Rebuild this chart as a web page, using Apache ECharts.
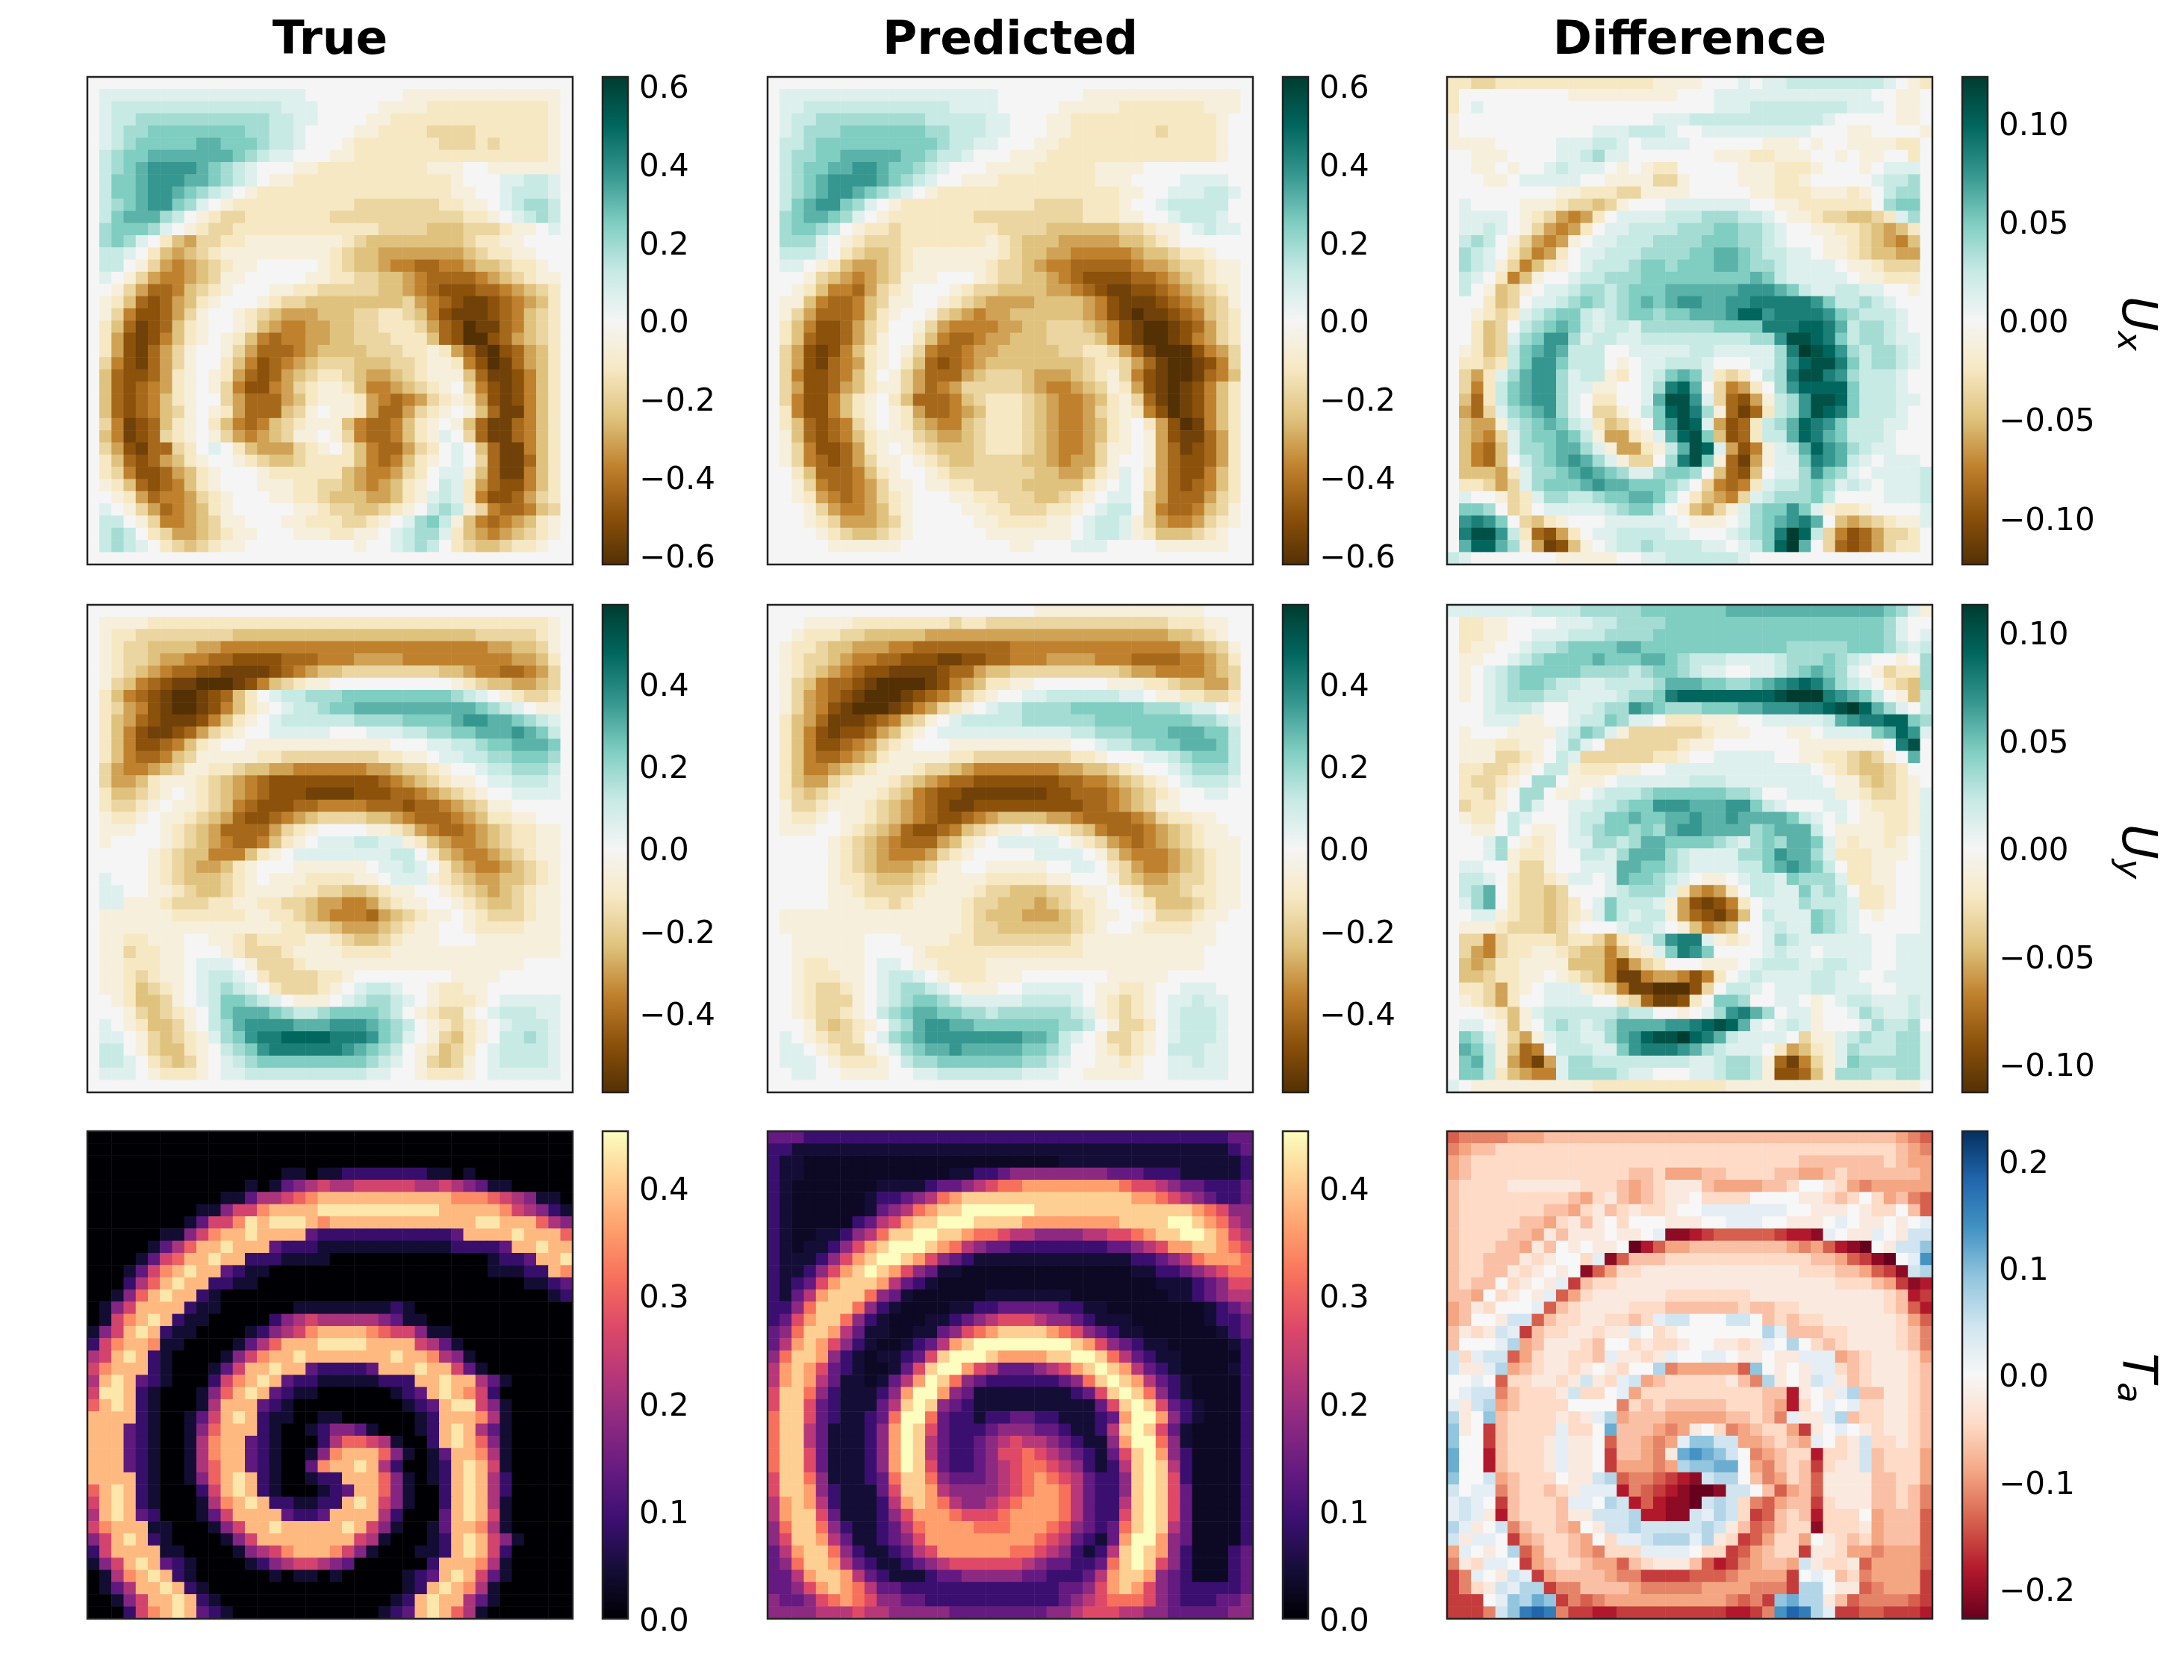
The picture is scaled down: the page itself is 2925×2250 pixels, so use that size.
<!DOCTYPE html>
<html>
<head>
<meta charset="utf-8">
<title>True / Predicted / Difference</title>
<script src="https://cdn.jsdelivr.net/npm/echarts@6/dist/echarts.min.js"></script>
<style>
  html, body { margin: 0; padding: 0; background: #fff; }
  #chart { width: 2925px; height: 2250px; }
</style>
</head>
<body>
<div id="chart"></div>
<script>
// cell values are read off the picture, one letter per cell, in tenths of the panel's vmax:
// a..j = -0.1..-1, A..J = +0.1..+1, . = 0
const uxTrue = [
".......... .......... .......... ..........",
".AAAAAAAAA AAAAAAAA.. ......aaaa aaaaaaaaa.",
".ABBBBBBBB BBBBBBAAA. ....aaaabb bbbbbbbba.",
".ABBCCCCCC CCCCCBBAA. ...aabbbbb bbbbbbbba.",
".ABCCDDDDD DDDCCBBA.. ..aabbbbcc ccbbbbbba.",
".ABCDDDDDE EDDDCBBA.. .abbbbbbbc ccbcbbbba.",
".BCDDEEEEE EEDCBAA... aabbbbbbbb bbbbbbbba.",
".BCDEFFFFE DCBA...aab bbbbbbbbaa a..aaaaaa.",
".BDDEFFFEE DCBA.aabbb bbbbbbbbbb a...AABBA.",
".BDDEFFEDC BA.abbbbbb bbbbbbbbbb aa..ABBBA.",
".BCDEFFDCA .abbbbbbbb bbcccccccb baa.ABCCB.",
".BDEEECB.a bccbbbbbbb cccccccccc cbba.ABCB.",
".CDDDCA.ab ccbbbbbbbb bbbbccccdd dcccbaa.A.",
".CDCA.bdec cbbaaaaaaa abcddddddd dcbbaa....",
".BBA.bdedc baaaaaaaaa bcddeeeeee edcbbaa...",
".BB.acefed cbaa.....a bcddeffggf feddcbba..",
".A.aceffed caa.....aa bbccddefgg ggfedcbaa.",
"..aceggfdc ba...aabbc ccccddefgh hhggfedcb.",
".abdghgedb a...abccdd ddddddcefg hiihgfedb.",
".acfhhgeca ..abcdeeed ddccbbcdfh iiihgfdcb.",
".bdgihgdba ..abdeffee ddccbbbceg hjiigfdcb.",
".behihfdba .abdfgffee ddcccbbbdg hjjhgedcb.",
".behigeca. .acegggfed dddcccbbab egijhgedb.",
".cfhigeca. .bdfhgfedc ccdddccbaa bfhjigedb.",
".dghhgeba. abeghgedcb bcdeedcbaa adgiihfdb.",
".dghgfeba. acfhhfecba abdffedcba .cfhihfdb.",
".dghgfdba. .cegggedba aabefgfecb abehihfdb.",
".dghgfdca. abegggdca. aabeggecba .adgiifdb.",
".cfihgdba. bdfgfdcbaa adfggfdba. adgiigfdb.",
".dfihgcba. acefedcaa. acfggfdbaA .cgiigfdb.",
".cehiggcb. A.bdeeecba .bdfggecb. A.dgiifdb.",
".bdghgedba ..abcddcbb bbdfgfdba. A.cgiigdb.",
".bcfhhgedb a...abbbbb bdeffecb.A Aadgiifdb.",
".abdghgfdb a...aaabbc cdefedba.B Abeghhfdb.",
"..abegffec ba...aabbc dddeedbaAB Abfhhgecb.",
".A.acegfed ba.....aab ccddcba.BC Bacfggfdc.",
".BB.acffed caa...aabb bccba.ACDB adfgfedba.",
".BCB.bceed cbaa...aaa bbaa.ABCCA bdefedcba.",
".BCBA.bcdc baa....... ..a..ABCB. bcddcbba..",
".......... .......... .......... .........."
];
const uxPred = [
".......... .......... .......... ..........",
".AAAAAAAAA AAAAAAAAA. ......aaaa aaaaaaaaa.",
".AABBBBBBB BBBBBAAAA. ....aaaaab bbbbbbaaa.",
".ABBCCCCCC CCCBBBBBAA ...aabbbbb bbbbbbba..",
".ABCCCDDDD DDDCCBBBAA ...aabbbbb bbcbbbba..",
".BBCDDDDDD DDDDCBBAA. ..aabbbbbb bbbbbbba..",
".BCCDDEEEE EDDCBBA... aaabbbbbbb bbbbbbba..",
".BCDDEEFFE DDCBA...aa aabbbbbaaa a.........",
".BCDEFFFFE DCBA..aaab bbbbbbbaaa ....AAAA..",
".BCDEFFEDC BA.abbbbbb bbbbbbbbba a..AAABBA.",
".BDEFFDCA. abbbbbbbbb bbccccbbba ..ABBBBB..",
".CDEEDCA.a bbbbbbbccc ccccccbbba a..ABBBA..",
".CDDCB.abb cbbbbbbbbc cccddddddc cbaa.ABAA.",
".CCCA.abcc cbbbbbbbab cdddeeeeed dcba......",
".BBBA.bcdd cbaaaaaaab cddeefffff eddcbba...",
".AA.abdeed cbaaaaaabc cdeffggggg feedccbaa.",
"...acdefed caaa...abc cddefghhhh ggfedcbaa.",
"..abdffgec ba...abccd dddeefghii hhgfedcba.",
".aadfggfdc aa..abcdee eeddddefhi iihgfedca.",
".acegggfdb a..acdefee ddddddefhi jiihgfdcb.",
".bdfhhgecb ..aceffffe eddcccdefh ijjihgecb.",
".bdghhgeca ..bdfggfee dddccccdfh ijjihfecb.",
".cehihfdba .acfggfeed ddddccbbce gijjjhfec.",
".cehigfeba .bdghgfedd ddddddcbbc egijjihfc.",
".cfhhgfdb. acegggedcc cdeeedcbac fhijjigfd.",
".cehhgedba acegfecccc cdeffedcab ehijihfdb.",
".cfhhfdba. bdgggfdcbb bcdeffedba cgijihfdb.",
".bfhhfdba. abeggfedbb bcdeffecba bfhjihfdb.",
".bdghgfca. abdeffdcbb bcdeffedba .behjifdb.",
".adghgfdba aacdeedcbb bcdeffedba .aehiigeb.",
".acfhhgeba .abcdddcbb bcdeffecaa .aegihgeb.",
".acfghgeca a.abcddccc cddefeeca. .aeghhgeb.",
"..bdgggfdb a..abccccc ccddeedbaA .beghhfdb.",
"..acfggfec aa.aabbccc cdddddba.A .beghgfdb.",
"..abefgfec ba...aabbc ccddcba.AA .cegggecb.",
"...aceffed ba....aabb cccbba.ABB .cfggfdca.",
"...abceeed ca.....aab bbbaa.ABBA aceffecba.",
"....abcddc ba......aa aaaaa.ABBA abdddcba..",
".....aaaaa a......... aa...AAA.. ..aaaaaa..",
".......... .......... .......... .........."
];
const uxDiff = [
"bbccbbbbbb bbbbbbbaaa a...A.AABB BBBBBBA.ab",
"b......... aaaaaaaaa. ..AAAAAAAA AAAAA..aa.",
"b.A....... .......... ..AAABBBBB BBBAAA.aa.",
"a......... .......AAA BBBBBBBBBB BA.....aa.",
"a......... ..AAABBBA. .AAAAAAAAA ...aa....a",
"aaaa.....A AABBA.AAAA ......aaa. a..aaaabb.",
"..aaa....A ABCAA..... ..aaabbaaa ..a.aa..b.",
"..aa.a..AB AAA.a.abb. ....aaabbb a...a.AAA.",
"...aa.AAAA A..aaaacca ....aaabba .....ABBC.",
".........a abbbccaaaa .....aabbb aaaba.BCC.",
".A....aaab ccdca...AA AAAAA..aab bbbbb.CDD.",
".AAAA.abce feb.AAAABB BCCCBBA.aa bccddcbAC.",
".AABA.acef eb.AABBBBC CCDDCCBA.. aabbcdedb.",
".BCB.acefe a.AABBBCCC CDDDCCBA.. .aabcdefd.",
".CBA.bdfeb .AABBBCCCC DDEEDCBBAA .aabcddee.",
".CBAacfdba .ABBBCDDCD DDEEDCCBAA AA.aabccc.",
".BA.bfda.. ABBCCCDDDD DDDDDEDBAA AAA.aabbb.",
".B.adca.AA BCCBCDDDEE EEEEFFFEDB AABBAA..a.",
"...bdc.AAB CDCBCDEDEF FEEFFGGGGG FDBBCBA...",
"..abcbABCD DBABCDDCDD EEEFHHFGGG GFDCBBBA..",
"..bdc.BCDE DBABBACCCC CCDDDDGGGH HGEBCCBA..",
"..bdcACDFF CABBAABBBB BBBBBCCFII HGDBCCBAA.",
".abdcBDEFE BBB..AAAAA BBAAAAACGJ IHFCBCCBA.",
".bbcbBDFFD BBB.a.AABB BA...AACFH IIGDBCCBA.",
".cebACEFFC ABBab.ABDE DAbcb.BCGI IGFCBBBA..",
".cfbBDEFFC AAaa..ACGH E.cfeb.CFH HHHDBBBA..",
".dgbBDEFFC A.bb..AEII FAcgheaBCF IIHDBBBAA.",
".egcACDEFC A.cca.BDHI GCagigbBCF IHGDBBBA..",
".deeaBCDED BAbdca.DFI HAehgbBCEH GFDBBBAA..",
".defcACDDE DBaeebaAEH IDdhgbBBEH GEDBBBA...",
".dfgdACCDE ECAaeebaBE IHAehfaABE HFECBAA...",
".dfgd.BCDE FECAacc.CG IDagieaAAD GFEBA.AAA.",
".dddebACCD EFEDCAACDD C.dghd.AAC FDCA.AAAAB",
".bbcecACDD DEFEEDDDCB .cfgfbABBC DCABA.AAAB",
".A..acbACC BBCDDEEDB. bdefcABCCC DB....AAAB",
".DDC.cb.AA AAABCDDB.a decaACDDFD Aabba....A",
".FGFD.cdba ...AAAAAA. aaa.ACDEFG E.dedcbaaA",
".GIIFBbghe b.AABBBBAA ...ABCDGJH Bcfhgeccb.",
".EHHECaeih da.ABBCBBB BAA.ABDHJE .cghgecbb.",
"BA.......a aaaa..AABB BBBBA..... .........."
];
const uyTrue = [
".......... .......... .......... ..........",
".aaaabbbbb bbbbbbbbbb bbbbbbbbbb bbbbbbbba.",
".abbcccccc ccdddddddd dddddddddd ddcccccba.",
".abccdddde efffffffff ffffffffff fffeeddca.",
".abccdeeff gghhhhgggf ffeeeeffff fffffeedb.",
".abcdefggh hiiiihgfed dccccccccd deffggfec.",
".acdfghiij jjihfdcbaa .......... abcddeedc.",
".bdfghijji hgdb.ABBCC CDDDDDDDDD CBA.abccb.",
".bcefhijji hfdba.ABBC DDEEEEEEEE EEDCBA.aa.",
".bdeghiiih fdba.ABBBB BBCCCCDDDD EFFEEDCBA.",
".bdfhiihge cba..AAAAA ...AAABBCC DDEEEFEDB.",
".bdfhhgfdb a..aaaaaaa aaaaa...AA BBCDDEEED.",
".bdfggfdca aaaabbcccc ccccbbaa.A ABBCCDDDC.",
".ceffedcaa bbcddeefff fffeedccba ..ABBCCCB.",
".ceedbaaab cdefghhhhh hhhhgfedcb aa.AABBBA.",
".bddcba.ab cdefghhhii iihhhggfed cba..AAAA.",
".bccba.aab cdfghhhggf fffggghggf edcaa.....",
".abba.aabc deghhgfedc cccddefggg fedbbaa...",
".aaa..abcd eggggecba. ...aabcefg gfedcbbaa.",
".a....abcd efggfdba.A AABBAAabde ffedcbbaa.",
".....abcdd fffdba.AAA AAAAABB.bd effedcbaa.",
".....abcde edba...aaa aaa.AABA.b deffedcba.",
".A...abcdd dcba.aaabb bbaa.AAAab cdeeddcba.",
".AA..aabcd dcbaaaabbc cddcbaa..a bcdedcbaa.",
".AAaaabccc bbaabbccde effecbaa.. abcddcbaa.",
".aaaaaabbb bbbaabbcde fffgedcbaa .abcccbaa.",
".aaaaaaaaa aaaaaabbcc deeedcbaa. .abbbbaaa.",
".aabbaaa.. aabcbbbbaa bcddcbaaa. ..aaaaaaa.",
".aacbbaa.. .abcccbaaa abbbbaaaaa aaaaaaaaa.",
".aabbbaa.A AA.acccbaa aaaaaaaaaa aaaaaa....",
".aabcbaa.A BBA.bccccb ba........ aaaa......",
".aabdcba.A BCBA.bcccb a.ABBA..ab baa.......",
"..abddca.A BDDCBA.aaa .ABCCBA.ab bba.AAAAA.",
"...acdcba. BDEEEDCBBC DDDDCB.abc ca.ABBBAA.",
".A.abddca. BCEFFFFEEE FFFEDCB.ab cba.ABBBA.",
".AA.acdcba ACDFGGHHHH GGGFDCA.ac dba.BBCBA.",
".BB.acddba .BCDFGGGGG GFEDCB.abd cb.ABBBBA.",
".BBA.bcdca .ABCDDDDDD DDDCBA.acd ca.ABBBBA.",
".AAA.abbba .AABBBBBBB BBBAA..abb ba.AAAAAA.",
".......... .......... .......... .........."
];
const uyPred = [
".......... .......... ..aaaaaaaa aaaaaa....",
"...aaaabbb bbbbbcbbcc cccccccccc cccbbbaa..",
"..abbbccdd dddeeeeeee eeeeeeeeee eeeddcba..",
".abbcddeee ffgggggggg ffffffffff ffffeedca.",
".abccdeffg ghhhiihhgg fffeeeefff ggggffedb.",
".abcdefghh iiiihggedd cccccccccd eeffffedc.",
".acdfgghij jjjihfedbb aa......aa abbcddeec.",
".acefghijj jihgfecba. .AABBBBBBA A.aabbccb.",
".acefhijjj ihfecba.AB BCCCCDDDDD DCCCBAA.a.",
".bdegiiihg fdca.ABBBB BCCCCCCDDD DDDDDCCBA.",
".bdfhihhge dba.AAAAAA AAAAABBCCC DDDEEEDDB.",
".bdfhhgfec ba...aaaaa aaaaa..ABB CCDDEEEDB.",
".bdfggfedb aaaaabbccc cccccbba.. .AABCDDDB.",
".bdffedcba aabccdefff ffffeeddcb a..ABCCCB.",
".bdeecbaaa bcdefgghhh hhhhggffed cba.ABBBA.",
".bcdcbaaab cdfghhiiii iiihhgggfe dcba..AA..",
".accbaaabc defghiihhh hhhhhhggfe dcaa......",
".abba.aabc defghhgfed dddeefgggg fecbbaa...",
".aaa..abcd eghhgfdcba a.aabcdfgg gfedcbaa..",
".....abcde fgggedba.A AAAA.abcef gfedcbaaa.",
".....abcde fffecba... ..AAAA.ace fffedcbaa.",
".....abcde eedcaa..aa aaa..AA.bc effedcbaa.",
".....abbcd ddcbaaaabb bbbaa...ac deedccbaa.",
".....aabcc ccbaaaabcc dddccbaa.a bdddcbbaa.",
".....aaabb cbaaaabccd ddedcbba.. abdddcbaa.",
".aaaaaaaaa aaaaaabcdd deeedcbaa. .acccbaa..",
".aaaaaaaaa aaaaaabccd dddddcba.. abbbbaa...",
"..aaaaaa.. .aaaabbccc cccccbaaaa aaaaaaa...",
"..aaaaaa.. ..abbbbbbb bbbbbbaaaa aaaaaa....",
"..abbaaa.A A.aabbbbaa aaaaaaaaaa aaaaaa....",
"..abbbaa.A BBA.abbbaa a.......aa aaa.......",
"..abccba.A BCCBA.aaa. .AAAAA.aab ba..AAA...",
"..abccca.A BCDDCBAAAA ABBBBA.abc ba.AABAA..",
"..abccba.B CDEEDDCCBC CCCCCBAabc ba.ABBBA..",
"...acdcba. BCEFFEEDDD DDDDCCB.ac cb.ABBBA..",
".A.abccb.A CDEFFFFFFF FEEDBA.acc ba.ABBBA..",
".AA.abcca. ACDEEFEEEE EDDCB..abc ba.BBBAA..",
".AAA.abbba .BCCDDDDDD DCCBA..aab a..AABAA..",
"..AA..aaaa ..AABBBBBB BAAA..aaaa a..AAAAA..",
".......... .......... .......... .........."
];
const uyDiff = [
"AAAAAAABBB BCCCCCDDDD DDDEEEEEEE EEEEEEDCAa",
".bbaa....A AABBCCCCDD DDDDDDDDDD DDDDDDCA..",
".bbaa..AAA BBBCCCCDDD DDDDDDDDDD DDDDDDCA.A",
".baa..ABBC DDDDEEDDDD DDDDDDDDCC CCCDDDCBAB",
".aa..ABCDD DDEDDDEEDC BBBAAAABCC CDCBA..a.C",
".a.ABCDDDD DCCCCBCDDC BAA..AABCD EDCA.acbbC",
".a.ABCDDCB BAABBBBCEE EDDCCDEFGH GECBA.bcdC",
".a.ABCCCBB AAAABCCDGH HHHHHHHIJJ JGFEDB.adB",
"...ABBBA.. AABCCFEDCC CDDDEEFFFG GHIJHECA.B",
"...AAAaa.. ABBDCAA.bb baaa..AAAA ABEFGGHHDC",
".a...aaaaA BDCAaccccc cbaaa...aa .AAAADEHFA",
".aaabbaa.A CA.ccccccb aa.......a aaaaaa.GI.",
".aaaccba.B Accccccbba ..AAAAA..a abbcdca.E.",
".bbccba.BB abbbaa..AA AAAAAAAAAA .abcddcb..",
".bccba.CC. aaa.AAAAAA BBBAAAAAAA A.aacdcba.",
".bbca.CC.a a.ABBBCDDD DDDCCB..AA AAaabccbaA",
".cbba.CA.. AABBCDDFFF EEEFFDBA.. .AA.abbbaA",
".abb.BA... ABBDDEDDEE FEEFEEEEDB A.A.aabbaA",
"..aa.B.aa. ABCDDCDCEF FEEEECDEEE B.aaaabbaA",
"...AC.aba. AACCBCEEDD DDCBACDCEE DAabaaba.A",
"...ACabba. .BBACEEECB AAAACCDFEE CAbbbaaa.A",
".AA..acca. .AAAEEDDCB AAAABBDEFE DB.bbaa..A",
".BBA.bccba AA.AEDDCBA .aa.ABBADC CCAbbaa..A",
".BCE.bccdc ...ABCCCAb efeb.BBAAD BCB.bba..A",
".ACE.bccdc b.ADBBBAae hihfb.AAAC BBBAbba..A",
"..AAabccdc baADBABBae ghigd.BAAA DCBA.a...A",
".aaabcccdc a...ABBA.a dfed..ABAA DCBA.....A",
".ccfcbbbbc bbcebaACFG GAaba.ACBA AAAAA..AAA",
".cefcbbaab cddfdbaADG FD....ABAA .AAAA..AAA",
".dedbbaaaa dddfhecb.. .aaa.ABBBA ABBAA..AAA",
".ddcbbaa.a bcdfiifeef hfb.ABAAAA BBAA..AAAA",
".bbceba.AA Aabcfiijjj hc.BBA.AAA BBAAA..AAA",
".abceb..AA AA..bcgiih b.DDC..AA. a.ABBAAABA",
"...abdaABB BBBBCBB..a .ACFGEC.AA a..ACBAABA",
".AA.ada.BC BABCEEEEFF GHIHEA.ABA a...ACBBC.",
".DCAaceaAB BAACEFHIIJ HGEBAAAA.c aaABCBBCCA",
".EDBadgf.B BBAADFGGGF ECBAAA.bed baACBBBCCA",
".DEBaegieA CCBBBBBBBB AABCCBagif caADCCCCCA",
".DDBbdeffA CCCCBAA... AABCCBahhg daCCCBBCCA",
"A.aaaaaaaa aabbbbbbbb bbbaaaaaaa aaaaaaaaa."
];
const taTrue = [
".......... .......... .......... ..........",
".......... .......... .......... ..........",
".......... .......... .......... ..........",
".......... ......AA.A ABBBBBBBAA .A........",
".......... ...A.ACDEF EEFFFFFEEF EDCAA.....",
".......... .AACEEFGHI IIIIIIIIII HHHGFEDAA.",
".........A ADFFHIIIIJ JJJJJJJJJI IIIIHFEDBA",
"........AC FFHJIJJJIH IIIIIIIIII IIJJIIIGED",
"......AADF HIIJIIIICB BBBBBBBBBB CIIIIJIIIG",
".....ACEGI IJIIICBBBA AAAAAAAAAA BBBBCIIJII",
"....ACFGII JIIBBBAAAA .......... ...ABBCIIJ",
"...ACFHIJI ICBAA..... .......... ...AAABBIH",
"...BEGIJII BBAA...... .......... ......AABC",
"..ADGIJIIB A......... .......... ........AB",
".ADFIIIIBA A......AAA AAAAABA... ..........",
".AFHIJIBAA .....BDEFE EEEEDCAA.. ..........",
"ADFIJIBAA. ...ABDEFHI IIIHGFFDAA ..........",
"BFHIIHAA.. ..ACEGIIIJ JJJIIIIFEC A.........",
"EFIJIBA... .ADFHIIJII IIIIIJIIHE DA........",
"FHIIIBA... ACFIIJIICB BBBCIIIJII FCA.......",
"EIJICBA... BFHIJICBBA AAAABBBIIJ IIECA.....",
"FJJIBA...A DGIJICBAA. .....ABCIJ IHFB......",
"GIJIBA...A EIIICBA... ......ABCI JJFDA.....",
"IIIIBA..AC FIJIBAA..A A......ABI IIHEA.....",
"IIICBA..AD GIIIBA..AB DDCA...ABI JIECA.....",
"IIICBA..AE HIICBA...B EGGFEA..BI JIGDA.....",
"IIICBA..AE HIICBA..AD HIIIGDA.AC IIHEA.....",
"IIICBA..AE GIICBA..CH IIJIEB..AB IJIFA.....",
"IIIIBA..AD GIJIBA..AB BIIIGDA.AB IJIEB.....",
"GIJIBA...B FIJIBA...A BCIIGDA..B IJIEB.....",
"FIJIBA...A EHIJIBBAAB BIJIFDA..B IJIEA.....",
"EIJICB...A CFIIIICBBC IIIIEB...C IJIFA.....",
"FHIIIAA... ADFIIJIIII IJIFDA..AC IIHEA.....",
"DFIJIBA... .ADFIIIIII IIFEA...AB IJIFDA....",
"BFIIIIAA.. ..ADEFHIII HFDA...AAB IJIFB.....",
"ADFIJICBA. ...ABDEFFE DC......BI IIHEA.....",
".AEHIJIBA. .....A.AA. A.....ABCI JIFCA.....",
".ACEIIJIBA .......... ......ABIJ IHEA......",
"..ADFIIJIB A......... .....ABIJI IECA......",
"...BFHIJIC BA........ ....ABCIJI GEA......."
];
const taPred = [
"CCCBBBBBBB BBBBBBBBBB BBBBBBBBBB BBBBBBBBCC",
"BBAAAAAAAA AAAAAAAAAA AAAAAAAAAA AAAAAAAABC",
"BAA....... .......... ....AAAAAA AAAAAAAAAB",
"BAA....... .....AABBC DDDDDDDDCC CBBBAAAAAB",
"BA.......A AAABCCDEFG GHHHHHHHHG FFEDCCBBBC",
"BA......AB BCDEGHIIII IIIIIIIIII HHGFEDCBBC",
"BA......AC DEGHIIJJJJ JJIIIIIIII IIIIIHGFDD",
"BA.....BCE FHIIJJJIII IHHHHHHHHI IIIJJIHGED",
"BA..AABDEG IIJJIIHGGF EEDDDDEEFF GHIIJJIHFE",
"BA.AABDFHI JJJIHGEDCC BBBBBBBBCC DEFHHIIHGF",
"BAAABDFHIJ JIHFDCBAAA AAAAAAAAAA BBCDEGHHHG",
"BAABDFHIJI HFDCAA.... .......... AABBCDEFGG",
"BABCFHIIIH ECBA...... .......... ..AAABCDFF",
"BACEHIIIGD CA......AA AAAAA..... ...AABCDEE",
"BBDGIIIGDB A....AABBC CCCCBBAA.. ......ABCD",
"BCFHIIGDBA ...AABCDEF FFEDDCBAAA ......ABBC",
"CDGIIHECAA ..AACDFGHI IIIHGFDCBA A......ABC",
"CEHIHFDBA. .ABCEHIJJJ JJJJJIHFDC BAA.....AB",
"DGIIHDBA.A ABCFIJJJIH HHHIIJJIGE CBAA.....B",
"EHIHFCBA.. ACFIJJHFEC CCDEFHIJIH ECBA....AB",
"EHIHECAA.A CEHJIGDCBB BBBBCDGIJI HECBA....B",
"FIIGDBAAAB DHJJHDCAAA AAAAABCFIJ IGDBA....B",
"FIIFCBAAAC EIJIDCBAAA AAAAAAACFI JIFCBA...B",
"GIIFCBAABC GJJGCBBABB CCBBAAABCH JJHDBA...B",
"GIIECAAABD HJIFCBBBCD DDCCBAABEI JIFCA....B",
"GIIECAAABD HJIECBBCDE FEEDCBAADH JJGDA....B",
"GIIFCAAABD HJIECBBCDF FGFEDCBACF IJHDB....B",
"GIIFCAAABD HJIFCBBCDE FGGFEDBABE IJIEB....B",
"FIIGDAAABC GIIGDCCCDE FGHGFECBBD IJIFB....B",
"FIIHDBAAAC FIIHEDDDDE FGHHGECBBD IJIFC....B",
"EHIHEBAAAB EHIHGEDDEF GHHHGECBBE IJIFC....B",
"EHIIFCAAAB DFHHHGFFFG HHHHGECBBF IJIFC....B",
"DGIIGDBAAB CEGHHHHGGG HHHGFDCBCG IJIEC....B",
"DFIIHECAAB CDFHHHHHHH HHGFECBACH JJHDC....B",
"CEHIIGDBAA BCEFHHHHHH GGFEDBABEI JIHDB...BC",
"CDGIIHECBA ABCDEFFFFF FEDCCBBCGI JIFDB...BC",
"CCEHIIHECB AAABCCDDDD DCCBBBCEHI IHDCB...BC",
"CCDFHIHGEC CBBBBBBBBB BBBBCCDFHI HFDCBBBBBC",
"DCCDFGHGFD DCCBBBBBBB BBBBCDEFGG GFDCBBBCCD",
"DDDDEEEFEE DDDDDCCCCC CCCDDEFFFE EDDCCCCCDD"
];
const taDiff = [
"feeeedddcc cccccccccc cccccccccc cccccccdef",
"edccbbbbbb bbbbbbbbbb bbbbbbbbbb bbbbbbbcde",
"dcbbbbbbbb bbbbbbbbbb bbbbbbbbbc ccccccbcdd",
"dcbbbbbbbb bbbbbccbdd dccbbbbccd dcbccccccd",
"cbbbbaaaaa abbbcdcbaa acddddccb. .abdeddddd",
"cbbbbbbbbb cdbacdcbaa .bbbb....a abcb.bdcef",
"cbbbbbbbcc dbacbabba. .AAAAAAA.. aaa.abb.cf",
"cbbbbbccdb aca.b...aa a..AAA..aa a.A.aa.a.A",
"cbbbbccdac aaa.aa.Aii hgfffffghh iA.aaA.aBB",
"cbbbccdac. a.aa.jhfdd ccccccccde dfhij.aBBD",
"cbbcccaba. .bAifcccbb bbbbbbbbbb ccdfgij.AF",
"cbbccaba.a .ifdbbaaaa aaaaaaaaab bbccdfgiBC",
"cbcc.ba.aA gcbbaaaaaa aaaaaaaaaa aabbbcdgih",
"ccd.ba.aAf dbaaaaaabb bbbbbaaaaa aaaaaabchg",
"dcab...Afc baaaabbbcc ccccbccbba aaaaaabcfh",
"dc..aBBfcb baabbcbABB ...BB.cbcb baaaaaabdf",
"cabaBAgcbb aabaaA.ba. ......CAcc cbbaaaabce",
"c...ACdcaa abc..babba ..aabaA.C. bcbaaaabce",
"BbABBfdbaa bbcAaabaA. .AA.aa.aaA AAdcbaaabd",
"BaaACdcbaa ba.ab..Ced ddddfD.a.a AAbcbaaabc",
"..A.fbbaab aBabABdcbb bbbaceCa.a BAacbaaabc",
".ABBecbbba Bbb.Adbbbb bbbbbbccha .aACccaabc",
"AaBCdcbbbb ....ebcbcc cccbbbcdhb .A.Abbaabc",
"Ca.Dcbbbba baACdcccdd dddccbceAa aACcbbaabc",
"Da.gcbbbbA bb.Ecccded a.bedcbbdg a.A.abaabc",
"D..gcbbbaA aa.fccdedA DDBBddcbcd A.baBbbabc",
"E..hcbbbaA aa.gccdeaE FEDB.edcbb hbbaBcbbbd",
"E..hcbbbaA aa.gdddedC DDEE.decbc gbaaBcbbbd",
"D..Bdcbbb. aaBCfeefgh iBCC.cedbc faaaaccbbd",
"B.AAecbbcb aAAAhefghi jjiBB.cfdc faaaaccbce",
"ABA.gcbbbc AA.CBhfhii jBCBbefdcc gbaaaccbce",
"ABAahcbbbc aaBBBChhii BACBbgfcbc hbbb.dcccf",
"CAa.Becbbc d.aBBCBBBB BCBacfecbb ibbbadcccf",
"BaAA.gdcbb cd.bAABCCC ACabgfdbbd .abcbdcccf",
"dA.a.Cfdbb cdebbbAAAA .bbgfdcbbg aabddedddf",
"eabAA.gdcb bcddfcbaaa cfhgedccdB abbafddddf",
"geA.aBAgdc cccdeegggg fffeddddg. A.cbeddddg",
"gebaBACCge eccccdeeee eddddeeegC C.aafedddg",
"ggg.ADCEDg efeddddddd dddefegDEC Cacfeeeefg",
"gggeBDGHGe gghhgggggg ggghhgeFHG CAggffgggh"
];

const uxTrueMax = 0.623, uxDiffMax = 0.1236;
const uyTrueMax = 0.592, uyDiffMax = 0.113;
const taMax = 0.453, taDiffMax = 0.228;

const uxTicks = [-0.6, -0.4, -0.2, 0, 0.2, 0.4, 0.6];
const uxDiffTicks = [-0.1, -0.05, 0, 0.05, 0.1];
const uyTicks = [-0.4, -0.2, 0, 0.2, 0.4];
const uyDiffTicks = [-0.1, -0.05, 0, 0.05, 0.1];
const taTicks = [0, 0.1, 0.2, 0.3, 0.4];
const taDiffTicks = [-0.2, -0.1, 0, 0.1, 0.2];

const columnTitles = ["True", "Predicted", "Difference"];
const rowLabels = [["U", "x"], ["U", "y"], ["T", "a"]];

const BrBG = ["#543005","#8c510a","#bf812d","#dfc27d","#f6e8c3","#f5f5f5","#c7eae5","#80cdc1","#35978f","#01665e","#003c30"];
const RdBu = ["#67001f","#b2182b","#d6604d","#f4a582","#fddbc7","#f7f7f7","#d1e5f0","#92c5de","#4393c3","#2166ac","#053061"];
const magma = ["#000004","#140e36","#3b0f70","#641a80","#8c2981","#b73779","#de4968","#f7705c","#fe9f6d","#fecf92","#fcfdbf"];

// blank: what "." stands for, the predicted Ta field never gets fully black
const panels = [
  { rows: uxTrue, vmin: -uxTrueMax, vmax: uxTrueMax, scale: uxTrueMax, blank: 0, colors: BrBG, ticks: uxTicks, digits: 1 },
  { rows: uxPred, vmin: -uxTrueMax, vmax: uxTrueMax, scale: uxTrueMax, blank: 0, colors: BrBG, ticks: uxTicks, digits: 1 },
  { rows: uxDiff, vmin: -uxDiffMax, vmax: uxDiffMax, scale: uxDiffMax, blank: 0, colors: BrBG, ticks: uxDiffTicks, digits: 2 },
  { rows: uyTrue, vmin: -uyTrueMax, vmax: uyTrueMax, scale: uyTrueMax, blank: 0, colors: BrBG, ticks: uyTicks, digits: 1 },
  { rows: uyPred, vmin: -uyTrueMax, vmax: uyTrueMax, scale: uyTrueMax, blank: 0, colors: BrBG, ticks: uyTicks, digits: 1 },
  { rows: uyDiff, vmin: -uyDiffMax, vmax: uyDiffMax, scale: uyDiffMax, blank: 0, colors: BrBG, ticks: uyDiffTicks, digits: 2 },
  { rows: taTrue, vmin: 0, vmax: taMax, scale: taMax * 0.95, blank: 0, colors: magma, ticks: taTicks, digits: 1 },
  { rows: taPred, vmin: 0, vmax: taMax, scale: taMax, blank: 0.03, colors: magma, ticks: taTicks, digits: 1 },
  { rows: taDiff, vmin: -taDiffMax, vmax: taDiffMax, scale: taDiffMax, blank: 0, colors: RdBu, ticks: taDiffTicks, digits: 1 }
];

function cellValue(ch, p) {
  if (ch >= "a" && ch <= "j") return -(ch.charCodeAt(0) - 96) / 10 * p.scale;
  if (ch >= "A" && ch <= "J") return (ch.charCodeAt(0) - 64) / 10 * p.scale;
  return p.blank;
}

function toCells(p) {
  const cells = [];
  p.rows.forEach((row, y) => {
    const line = row.replace(/ /g, "");
    for (let x = 0; x < 40; x++) cells.push([x, y, cellValue(line[x] || ".", p)]);
  });
  return cells;
}

const panelLeft = [117, 1028, 1938];
const panelTop = [103, 810, 1515];
const panelW = 650, panelH = 653;
const barGap = 40, barW = 34;
const indices = Array.from({ length: 40 }, (_, i) => i);
const fmt = (v, d) => (v < 0 ? "\u2212" : "") + Math.abs(v).toFixed(d);

const grids = [], xAxes = [], yAxes = [], series = [], visualMaps = [], graphics = [];

panels.forEach((p, i) => {
  const col = i % 3, row = Math.floor(i / 3);
  const left = panelLeft[col], top = panelTop[row];
  const barLeft = left + panelW + barGap;

  // heatmap panel
  grids.push({ left, top, width: panelW, height: panelH, show: false });
  xAxes.push({ type: "category", gridIndex: i * 2, data: indices, show: false });
  yAxes.push({ type: "category", gridIndex: i * 2, data: indices, inverse: true, show: false });
  series.push({
    type: "heatmap", xAxisIndex: i * 2, yAxisIndex: i * 2,
    data: toCells(p), progressive: 0, silent: true, animation: false
  });

  // colorbar axis, the gradient itself comes from the visualMap
  grids.push({ left: barLeft, top, width: barW, height: panelH, show: false });
  xAxes.push({ type: "value", gridIndex: i * 2 + 1, show: false });
  yAxes.push({
    type: "value", gridIndex: i * 2 + 1, position: "right",
    min: p.vmin, max: p.vmax,
    splitLine: { show: false },
    axisLine: { show: false },
    axisTick: { show: true, length: 10, customValues: p.ticks, lineStyle: { color: "#000", width: 2 } },
    axisLabel: {
      show: true, customValues: p.ticks, margin: 15,
      formatter: v => "{t|" + fmt(v, p.digits) + "}",
      rich: { t: { fontFamily: "DejaVu Sans", fontSize: 42, color: "#000", padding: [10, 0, 0, 0] } }
    }
  });
  series.push({ type: "line", xAxisIndex: i * 2 + 1, yAxisIndex: i * 2 + 1, data: [], silent: true });

  visualMaps.push({
    type: "continuous", seriesIndex: i * 2, dimension: 2,
    min: p.vmin, max: p.vmax, calculable: false, hoverLink: false,
    left: barLeft, top, itemWidth: barW, itemHeight: panelH, padding: 0,
    text: null, showLabel: false, inRange: { color: p.colors }
  });

  // frames go on top of the cells
  [[left, panelW], [barLeft, barW]].forEach(([x, w]) => {
    graphics.push({
      type: "rect", silent: true, z: 100,
      shape: { x, y: top, width: w, height: panelH },
      style: { fill: "none", stroke: "#222", lineWidth: 2.5 }
    });
  });
});

rowLabels.forEach(([sym, sub], r) => {
  graphics.push({
    type: "text", silent: true, z: 100,
    x: 2860, y: panelTop[r] + panelH / 2 + 4, rotation: -Math.PI / 2,
    style: {
      text: "{u|" + sym + "}{s|" + sub + "}", align: "center", verticalAlign: "middle",
      rich: {
        u: { fontFamily: "DejaVu Sans", fontStyle: "italic", fontSize: 64, fill: "#000", verticalAlign: "middle" },
        s: { fontFamily: "DejaVu Sans", fontStyle: "italic", fontSize: 45, fill: "#000", verticalAlign: "bottom", padding: [22, 0, 0, 0] }
      }
    }
  });
});

const titles = columnTitles.map((text, c) => ({
  text, left: panelLeft[c] + panelW / 2 - 5, top: 19, textAlign: "center",
  textStyle: { fontFamily: "DejaVu Sans", fontWeight: "bold", fontSize: 63, color: "#000" }
}));

const chart = echarts.init(document.getElementById("chart"), null, { renderer: "canvas" });
chart.setOption({
  animation: false,
  backgroundColor: "#fff",
  title: titles,
  grid: grids,
  xAxis: xAxes,
  yAxis: yAxes,
  visualMap: visualMaps,
  series,
  graphic: graphics
});
</script>
</body>
</html>
